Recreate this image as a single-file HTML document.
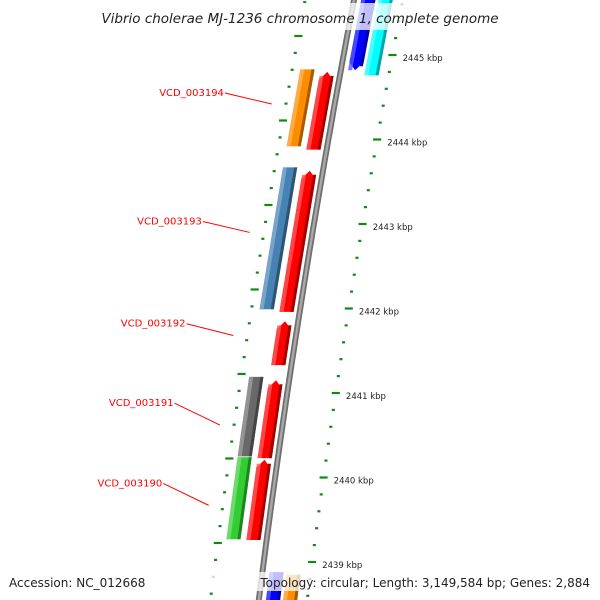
<!DOCTYPE html>
<html><head><meta charset="utf-8"><style>
html,body{margin:0;padding:0;background:#fff;width:600px;height:600px;overflow:hidden;}
svg{display:block;}
text{font-family:"DejaVu Sans","Liberation Sans",sans-serif;}
</style></head><body>
<svg id="map" width="600" height="600" viewBox="0 0 600 600" xmlns="http://www.w3.org/2000/svg">
<g id="ticks"></g>
<g id="backbone"></g>
<g id="genes"></g>
<g id="labels"></g>
<rect x="92" y="3" width="416" height="27" fill="#fff" opacity="0.75"/>
<text x="300" y="23" text-anchor="middle" font-size="13.5" font-style="italic" fill="#222">Vibrio cholerae MJ-1236 chromosome 1, complete genome</text>
<rect x="4" y="572" width="592" height="19" fill="#fff" opacity="0.75"/>
<text x="9" y="587" font-size="12" fill="#222">Accession: NC_012668</text>
<text x="590" y="587" text-anchor="end" font-size="12" fill="#222">Topology: circular; Length: 3,149,584 bp; Genes: 2,884</text>
</svg>
<script>
// ---- data (kbp) ----
const geneNames = ["fwd-a","fwd-b","VCD_003194","VCD_003194-r","VCD_003193","VCD_003193-r","VCD_003192","VCD_003191","VCD_003191-r","VCD_003190","VCD_003190-r","fwd-c","fwd-d"];
const geneStarts = [2445.77,2445.77,2444.83,2444.80,2443.67,2443.63,2441.85,2441.19,2441.15,2440.24,2440.21,2438.88,2438.85];
const geneEnds   = [2444.82,2444.76,2443.92,2443.88,2441.99,2441.96,2441.33,2440.25,2440.23,2439.27,2439.26,2437.90,2437.90];
const geneStrand = [1,1,-2,-1,-2,-1,-1,-2,-1,-2,-1,1,1];
const geneColors = ["#0000ff","#00ffff","#ff8c00","#ff0000","#4682b4","#ff0000","#ff0000","#696969","#ff0000","#32cd32","#ff0000","#0000ff","#ff8c00"];
const labelNames = ["VCD_003194","VCD_003193","VCD_003192","VCD_003191","VCD_003190"];
const labelKbp   = [2444.42,2442.90,2441.68,2440.62,2439.67];
const labelTextKbp=[2444.55,2443.03,2441.82,2440.88,2439.93];
const majorTicks = [2445,2444,2443,2442,2441,2440,2439];
const majorTickLabels = ["2445 kbp","2444 kbp","2443 kbp","2442 kbp","2441 kbp","2440 kbp","2439 kbp"];
const leftShiftKbp = 0.225;

// ---- axis functions ----
function tOf(k){ return 55 + (2445 - k) * 84.5; }
function bx(t){ return 354 - 0.191*t + 5.4e-5*t*t; }
function slope(t){ return -0.191 + 2*5.4e-5*t; }
function pt(t, off){
  const s = slope(t), n = Math.sqrt(1+s*s);
  const tt = t + off*s/n;
  return [bx(tt) + off/n, t];
}
const NS="http://www.w3.org/2000/svg";
function mk(tag, attrs, parent){
  const e=document.createElementNS(NS,tag);
  for(const k in attrs) e.setAttribute(k,attrs[k]);
  parent.appendChild(e); return e;
}
function P(a){ return a.map(p=>p[0].toFixed(1)+","+p[1].toFixed(1)).join(" "); }

// backbone
const bb=document.getElementById('backbone');
let pts=[]; for(let t=-10;t<=610;t+=10) pts.push(pt(t,0));
const b1=mk('polyline',{points:P(pts),fill:'none',stroke:'#6e6e6e','stroke-width':6},bb);


const b2=mk('polyline',{points:P(pts),fill:'none',stroke:'#a8a8a8','stroke-width':2.5},bb);



// ticks
const tg=document.getElementById('ticks');
for(let i=-5;i<=45;i++){
  const k = 2446 - i*0.2;
  const major = Math.abs(Math.round(k)-k)<1e-6;
  const t=tOf(k);
  const a=pt(t, major?44:46.5), b=pt(t, major?52:49.5);
  const l=mk('line',{x1:a[0],y1:a[1],x2:b[0],y2:b[1],stroke:'#118811','stroke-width':2.2},tg);
  
  
  const t2=tOf(k+leftShiftKbp);
  const c=pt(t2, major?-52:-49.5), d=pt(t2, major?-44:-46.5);
  const l2=mk('line',{x1:c[0],y1:c[1],x2:d[0],y2:d[1],stroke:'#118811','stroke-width':2.2},tg);
  
  
}
majorTicks.forEach((k,i)=>{
  const p=pt(tOf(k),58);
  const tx=mk('text',{x:p[0],y:p[1]+6,'font-size':8.5,fill:'#222'},tg);
  tx.textContent=majorTickLabels[i];
  
  
});

// genes
const gg=document.getElementById('genes');
function shade(hex,f){
  const n=parseInt(hex.slice(1),16);let r=n>>16,g=(n>>8)&255,b=n&255;
  if(f>0){r+= (255-r)*f;g+=(255-g)*f;b+=(255-b)*f;} else {r*=1+f;g*=1+f;b*=1+f;}
  return `rgb(${r|0},${g|0},${b|0})`;
}
function geneShape(t1,t2,o1,o2,dir,head){
  const oc=(o1+o2)/2, a=[];
  if(dir===-1){ a.push(pt(t1+head,o1),pt(t1,oc),pt(t1+head,o2)); } else { a.push(pt(t1,o1),pt(t1,o2)); }
  if(dir===1){ a.push(pt(t2-head,o2),pt(t2,oc),pt(t2-head,o1)); } else { a.push(pt(t2,o2),pt(t2,o1)); }
  return a;
}
geneNames.forEach((nm,i)=>{
  const t1=tOf(geneStarts[i]), t2=tOf(geneEnds[i]);
  const st=geneStrand[i];
  let o = st===1 ? 14 : (st===-1 ? -13 : -33);
  if(st===1 && (geneColors[i]==="#00ffff"||i===12)) o=31;
  const w=14, o1=o-w/2, o2=o+w/2;
  const dir = (st===-1)?-1:((st===1 && geneColors[i]==="#0000ff")?1:0);
  const g=mk('g',{},gg);
  
  
  const c=geneColors[i];
  mk('polygon',{points:P(geneShape(t1,t2,o1,o2,dir,8)),fill:c},g);
  mk('polygon',{points:P(geneShape(t1+(dir===-1?4:0),t2,o1,o1+4,0,8)),fill:shade(c,0.35),opacity:'0.8'},g);
  mk('polygon',{points:P(geneShape(t1+(dir===-1?4:0),t2-(dir===1?4:0),o2-3,o2,0,8)),fill:shade(c,-0.35)},g);
});

// labels
const lg=document.getElementById('labels');
labelNames.forEach((nm,i)=>{
  const e=pt(tOf(labelKbp[i]),-62);
  const s=pt(tOf(labelTextKbp[i]),-110);
  const ln=mk('line',{x1:s[0],y1:s[1],x2:e[0],y2:e[1],stroke:'#ff0000','stroke-width':1},lg);
  
  
  const tx=mk('text',{x:s[0]-1,y:s[1]+3,'text-anchor':'end','font-size':10,fill:'#ff0000'},lg);
  tx.textContent=nm;
  
  
});
</script>
</body></html>
